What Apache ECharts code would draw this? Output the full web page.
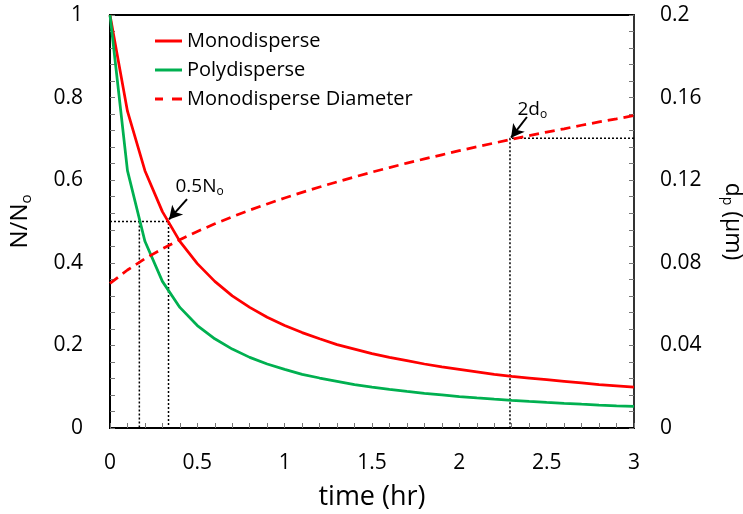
<!DOCTYPE html>
<html><head><meta charset="utf-8">
<script src="https://cdn.jsdelivr.net/npm/echarts@6/dist/echarts.min.js"></script>
<style>html,body{margin:0;padding:0;background:#fff}#c{width:743px;height:514px}</style>
</head><body><div id="c"></div>
<script>
// ---- data ----
const time = [0,0.1,0.2,0.3,0.4,0.5,0.6,0.7,0.8,0.9,1.0,1.1,1.2,1.3,1.4,1.5,1.6,1.7,1.8,1.9,2.0,2.1,2.2,2.3,2.4,2.5,2.6,2.7,2.8,2.9,3.0];
const monodisperse = [1,0.767,0.623,0.524,0.452,0.398,0.355,0.320,0.292,0.268,0.248,0.231,0.216,0.202,0.191,0.180,0.171,0.163,0.155,0.148,0.142,0.136,0.130,0.125,0.121,0.117,0.113,0.109,0.105,0.102,0.099];
const polydisperse = [1,0.623,0.452,0.355,0.292,0.248,0.216,0.191,0.171,0.155,0.142,0.130,0.121,0.113,0.105,0.099,0.0935,0.0885,0.084,0.080,0.076,0.0728,0.0698,0.0669,0.0643,0.0619,0.0597,0.0576,0.0556,0.0538,0.0521];
const monoDiameter = [0.0700,0.0765,0.0820,0.0868,0.0912,0.0952,0.0989,0.1023,0.1055,0.1085,0.1114,0.1141,0.1167,0.1192,0.1216,0.1239,0.1261,0.1283,0.1303,0.1323,0.1343,0.1362,0.1380,0.1398,0.1416,0.1433,0.1449,0.1466,0.1482,0.1497,0.1513];
const seriesNames = ['Monodisperse','Polydisperse','Monodisperse Diameter'];
// annotation values
const halfLevel = 0.5;
const halfTimeMono = 0.335;
const halfTimePoly = 0.168;
const doubleTime = 2.29;
const doubleDiam = 0.1403;
const halfArrow = [[0.441,0.554],[0.338,0.505]];
const doubleArrow = [[2.387,0.1506],[2.296,0.1406]];
const halfLabelAt = [0.372,0.584];
const doubleLabelAt = [2.33,0.771];

const FONT = '"Open Sans", sans-serif';
const pair = (arr) => time.map((t,i)=>[t,arr[i]]);

const tickStyle = {inside:true,length:5,lineStyle:{color:'#777',width:1}};
const minorStyle = {show:true,splitNumber:5,length:5,lineStyle:{color:'#777',width:1}};
const subRich = (size, sub) => ({
  a:{fontSize:size,fontFamily:FONT,color:'#000'},
  s:{fontSize:sub,fontFamily:FONT,color:'#000',padding:[Math.round(size*0.5),0,0,0]}
});
const solidIcon = 'path://M0,0H27V3H0Z';
const dashIcon = 'path://M0,0H8V3H0Z M17,0H27V3H17Z';

const chart = echarts.init(document.getElementById('c'));
chart.setOption({
  animation:false,
  backgroundColor:'#fff',
  grid:{left:110,right:109,top:15,bottom:86,show:true,borderColor:'#000',borderWidth:2,
        backgroundColor:'transparent',outerBoundsMode:'none',containLabel:false},
  legend:{
    data:[{name:seriesNames[0],icon:solidIcon},{name:seriesNames[1],icon:solidIcon},{name:seriesNames[2],icon:dashIcon}],
    orient:'vertical', left:155, top:31, padding:0,
    itemWidth:27, itemHeight:3, itemGap:9,
    textStyle:{fontSize:20,fontFamily:FONT,color:'#000',lineHeight:20}
  },
  xAxis:{
    type:'value',min:0,max:3,interval:0.5,
    axisLine:{lineStyle:{color:'#000',width:2}},
    axisTick:tickStyle, minorTick:minorStyle, splitLine:{show:false},
    axisLabel:{fontSize:21,fontFamily:FONT,color:'#000',margin:25},
    name:'time (hr)',nameLocation:'middle',nameGap:56,
    nameTextStyle:{fontSize:27,fontFamily:FONT,color:'#000'}
  },
  yAxis:[{
    type:'value',min:0,max:1,interval:0.2,position:'left',
    axisLine:{show:true,lineStyle:{color:'#000',width:2}},
    axisTick:tickStyle, minorTick:minorStyle, splitLine:{show:false},
    axisLabel:{fontSize:21,fontFamily:FONT,color:'#000',margin:27},
    name:'{a|N/N}{s|o}',nameLocation:'middle',nameGap:76,nameRotate:90,
    nameTextStyle:{rich:subRich(24,15)}
  },{
    type:'value',min:0,max:0.2,interval:0.04,position:'right',
    axisLine:{show:true,lineStyle:{color:'#333',width:2}},
    axisTick:tickStyle, minorTick:minorStyle, splitLine:{show:false},
    axisLabel:{fontSize:21,fontFamily:FONT,color:'#000',margin:26},
    name:'{a|d}{s|p}{a| (μm)}',nameLocation:'middle',nameGap:86,nameRotate:-90,
    nameTextStyle:{rich:subRich(23,14)}
  }],
  series:[
    {name:seriesNames[0],type:'line',data:pair(monodisperse),symbol:'none',
     lineStyle:{color:'#ff0000',width:2.75},itemStyle:{color:'#ff0000'},z:5},
    {name:seriesNames[1],type:'line',data:pair(polydisperse),symbol:'none',
     lineStyle:{color:'#00b050',width:2.75},itemStyle:{color:'#00b050'},z:5},
    {name:seriesNames[2],type:'line',yAxisIndex:1,data:pair(monoDiameter),symbol:'none',
     lineStyle:{color:'#ff0000',width:2.75,type:[10,6]},itemStyle:{color:'#ff0000'},z:5},
    {name:'guide1',type:'line',symbol:'none',silent:true,z:3,
     data:[[0,halfLevel],[halfTimeMono,halfLevel],[halfTimeMono,0]],
     lineStyle:{color:'#000',width:1.5,type:[2,2]},
     markLine:{silent:true,symbol:['none','arrow'],symbolSize:[11,13],label:{show:false},
       lineStyle:{color:'#000',width:2,type:'solid'},
       data:[[{coord:halfArrow[0]},{coord:halfArrow[1]}]]}},
    {name:'guide2',type:'line',symbol:'none',silent:true,z:3,
     data:[[halfTimePoly,halfLevel],[halfTimePoly,0]],
     lineStyle:{color:'#000',width:1.5,type:[2,2]},
     markPoint:{silent:true,symbol:'circle',symbolSize:1,itemStyle:{color:'rgba(255,255,255,0)'},
       label:{show:true,position:'right',distance:0,color:'#000',
         formatter:p=>p.name, rich:subRich(19,12)},
       data:[{name:'{a|0.5N}{s|o}',coord:halfLabelAt},{name:'{a|2d}{s|o}',coord:doubleLabelAt}]}},
    {name:'guide3',type:'line',yAxisIndex:1,symbol:'none',silent:true,z:3,
     data:[[3,doubleDiam],[doubleTime,doubleDiam],[doubleTime,0]],
     lineStyle:{color:'#000',width:1.5,type:[2,2]},
     markLine:{silent:true,symbol:['none','arrow'],symbolSize:[11,13],label:{show:false},
       lineStyle:{color:'#000',width:2,type:'solid'},
       data:[[{coord:doubleArrow[0]},{coord:doubleArrow[1]}]]}}
  ]
});
</script></body></html>
